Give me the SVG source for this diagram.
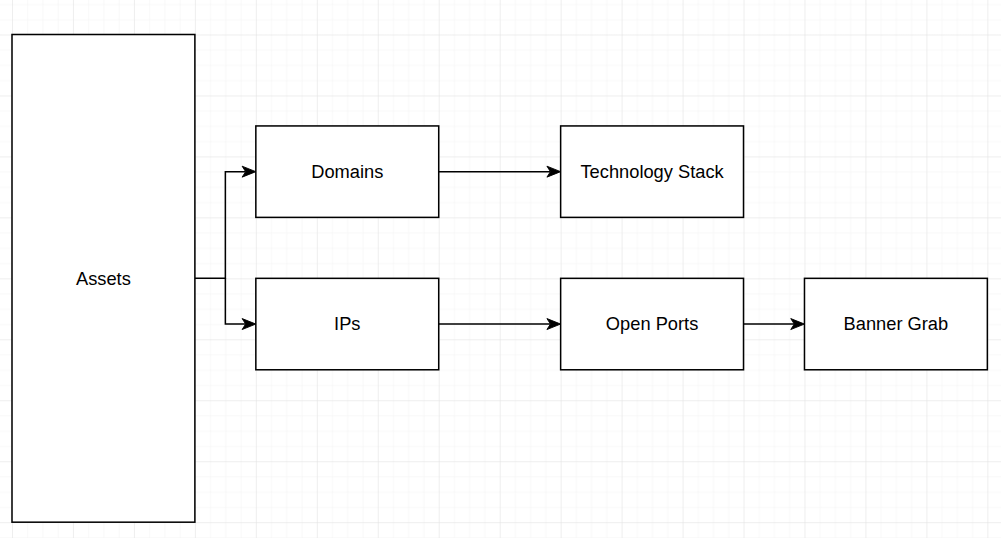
<svg xmlns="http://www.w3.org/2000/svg" width="1001" height="538" viewBox="0 0 1001 538">
  <style>
    .box { fill: #ffffff; stroke: #000000; stroke-width: 1; }
    .lbl { font-family: "Liberation Sans", Arial, sans-serif; font-size: 12px; fill: #000000; text-anchor: middle; }
    .edge { fill: none; stroke: #000000; stroke-width: 1; }
  </style>
  <defs>
    <pattern id="minor" patternUnits="userSpaceOnUse" width="10" height="10">
      <path d="M0,0 H10 M0,0 V10" fill="none" stroke="#f1f1f1" stroke-width="0.66"/>
    </pattern>
    <pattern id="major" patternUnits="userSpaceOnUse" width="40" height="40">
      <rect width="40" height="40" fill="url(#minor)"/>
      <path d="M0,0 H40 M0,0 V40" fill="none" stroke="#e3e3e3" stroke-width="0.66"/>
    </pattern>
    <marker id="arrow" markerUnits="userSpaceOnUse" viewBox="-1 -5 12 10" markerWidth="12" markerHeight="10" refX="2.3" refY="0" orient="auto" overflow="visible">
      <path d="M0,-3.6 L9,0 L0,3.6 L2.3,0 Z" fill="#000000" stroke="#000000" stroke-width="0.6"/>
    </marker>
  </defs>
  <rect width="1001" height="538" fill="#ffffff"/>
  <g transform="translate(12 34.5) scale(1.524)">
    <rect x="-40" y="-40" width="720" height="400" fill="url(#major)"/>
    <g id="connectors">
      <path class="edge" d="M120,160 H140 V90 H153.3" marker-end="url(#arrow)"/>
      <path class="edge" d="M140,160 V190 H153.3" marker-end="url(#arrow)"/>
      <path class="edge" d="M280,90 H353.3" marker-end="url(#arrow)"/>
      <path class="edge" d="M280,190 H353.3" marker-end="url(#arrow)"/>
      <path class="edge" d="M480,190 H513.3" marker-end="url(#arrow)"/>
    </g>
    <g id="assets">
      <rect class="box" x="0" y="0" width="120" height="320"/>
      <text class="lbl" x="60" y="164.2">Assets</text>
    </g>
    <g id="domains">
      <rect class="box" x="160" y="60" width="120" height="60"/>
      <text class="lbl" x="220" y="94.2">Domains</text>
    </g>
    <g id="technology-stack">
      <rect class="box" x="360" y="60" width="120" height="60"/>
      <text class="lbl" x="420" y="94.2">Technology Stack</text>
    </g>
    <g id="ips">
      <rect class="box" x="160" y="160" width="120" height="60"/>
      <text class="lbl" x="220" y="194.2">IPs</text>
    </g>
    <g id="open-ports">
      <rect class="box" x="360" y="160" width="120" height="60"/>
      <text class="lbl" x="420" y="194.2">Open Ports</text>
    </g>
    <g id="banner-grab">
      <rect class="box" x="520" y="160" width="120" height="60"/>
      <text class="lbl" x="580" y="194.2">Banner Grab</text>
    </g>
  </g>
</svg>
